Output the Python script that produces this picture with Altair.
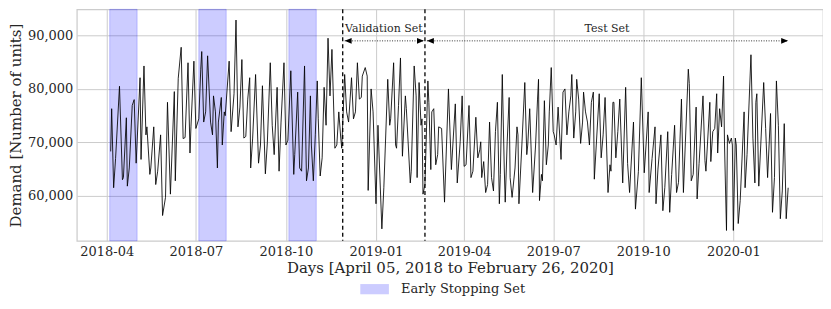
import altair as alt
import pandas as pd

# ---- data ----
# day offsets from 2018-04-05 and demand values (turning points of the daily series)
day_offset = [
    0, 1, 3, 5, 9, 12, 13, 16, 17, 19, 22, 24, 26, 30, 31, 34, 36, 37, 40, 41, 44, 46, 48, 51, 53, 56, 58, 61, 65, 66,
    69, 72, 74, 76, 79, 81,
    82, 85, 87, 90, 92, 93, 95, 97, 99, 102, 104, 105, 107, 109, 110, 113, 114, 116, 117, 121, 123, 126, 128, 130,
    132, 134, 136, 138, 140, 142, 143, 145, 148, 151, 153, 155, 158, 160, 163, 165, 167, 170,
    172, 174, 177, 179, 181, 184, 187, 188, 191, 193, 195, 198, 200, 202, 204, 205, 207, 209, 211, 212, 214, 216,
    218, 220, 222, 224, 226, 229, 231, 233, 235, 236, 238, 239, 241, 243, 246, 248, 250, 252, 254, 256, 257,
    260, 262, 263, 266, 268, 271, 273, 277, 279, 283, 285, 286, 289, 291, 292, 294, 296, 298, 301, 302, 306, 307,
    310, 312, 313, 315, 317, 318, 319, 321, 324, 325, 327, 328, 330, 332, 334, 335, 338, 341, 345,
    348, 352, 354, 357, 359, 361, 363, 366, 368, 370, 373, 375, 377, 378, 379, 381, 383, 385, 387, 389, 391, 393,
    395, 397, 398, 400, 402, 403, 405, 407, 408, 410, 413, 415, 416, 417, 420, 423, 425, 426, 428, 431,
    434, 436, 437, 438, 440, 441, 443, 445, 447, 448, 450, 452, 453, 455, 457, 460, 462, 464, 466, 468, 470, 471,
    473, 475, 476, 478, 480, 482, 483, 485, 487, 489, 491, 493, 494, 496, 499, 501, 503, 505, 508, 510, 511, 513,
    514, 516, 518,
    520, 523, 526, 528, 530, 534, 536, 539, 542, 545, 547, 549, 550, 553, 556, 557, 559, 562, 564, 566, 569, 571,
    573, 576, 578, 580, 583, 585, 587, 590, 591, 593, 595, 598, 599, 601, 605, 607,
    608, 612, 613, 615, 617, 619, 620, 622, 624, 626, 627, 629, 630, 632, 634, 635, 636, 638, 639, 641, 643, 647,
    648, 650, 654, 656, 658, 659, 660, 662, 664, 667, 669, 671, 674, 676, 678, 680, 682, 684, 686, 688, 690, 692,
]
demand = [
    68300, 76300, 61500, 67000, 80500, 63000, 63400, 74600, 61800, 65200, 76900, 78000, 66100, 82100, 66800, 84300,
    71400, 72900, 64000, 65200, 72900, 62100, 64600, 71400, 56300, 59700, 77500, 60300, 79500, 62800,
    82000, 87800, 70700, 70900, 84900, 68000,
    72900, 85200, 72600, 74400, 83700, 87000, 73800, 75700, 86200, 73800, 71400, 78700, 75700, 65200, 73800, 78400,
    69500, 75700, 75000, 85200, 72000, 79100, 92900, 72900,
    76600, 85500, 70800, 71100, 78100, 82100, 65200, 70800, 82700, 66100, 69500, 80600, 64100, 69900, 84900, 73200,
    67700, 80300,
    64600, 73800, 84900, 69500, 70400, 83400, 64000, 67700, 79400, 65200, 64600, 84300, 62800, 65200, 78700, 69500,
    62800, 71400, 81500, 74400, 63700, 67100,
    80300, 73200, 89500, 78700, 87400, 68900, 69500, 75700, 70800, 68900, 78100, 82700, 75700, 73800, 82100, 74400,
    75700, 84900, 78100, 78400, 82400,
    84000, 82400, 61000, 80000, 75700, 58500, 73200, 53800, 61500, 81800, 73200, 74400, 84900, 69500, 68900, 76900,
    85800, 67400, 78700, 76300, 62400, 64600,
    84300, 78700, 63400, 81200, 73200, 74400, 60300, 62100, 81500, 77500, 64900, 75700, 76300, 65800, 67700, 72900,
    72600, 58800, 80000,
    64900, 77200, 62400, 70100, 78700, 65500, 65800, 76900, 63400, 64600, 74700, 67100, 68600, 70100, 63400, 66400,
    60600, 62100, 73800, 63400, 60900, 72000,
    77500, 58500, 64000, 82700, 65200, 58800, 70100, 78400, 63400, 59700, 65200, 72900, 71400, 58500, 69500, 81200,
    67700, 69500, 76300, 60600,
    69500, 78100, 81800, 59100, 64000, 62800, 77800, 65800, 69500, 75700, 84000, 72000, 71400, 69500, 76600, 66800,
    79400, 80000, 71400, 75700, 78700, 82700,
    70800, 75700, 81800, 78100, 69800, 73800, 79400, 75700, 73800, 69500, 77500, 79400, 63100, 69500, 79100, 67100,
    71400, 78400, 60600, 65800, 64600, 77500,
    77500, 67100, 72000,
    78100, 62400, 80300, 66000, 60600, 73800, 57500, 64500, 82100, 64300, 70000, 75700, 60600, 67000, 72900, 58500,
    65000, 71400, 57200, 61500, 72000, 56900,
    64000, 73200, 60600, 62500, 78100, 60600, 70000, 83700, 81000, 62800, 64000, 76600, 59400, 66000, 78700, 66600,
    64600, 77500, 66400, 72000, 72600, 79100, 68000, 76300, 72900, 82400, 69500, 53500, 71400, 69800, 70800, 69500,
    53500, 70800, 69500, 54800, 59100, 75700,
    61500, 67700, 86400, 70800, 62400, 77500, 79100, 61800, 69500, 81200, 72600, 63400, 75400, 56900, 63400, 81500,
    73200, 55700, 60900, 73500, 55700, 61500,
]

# early stopping windows
band_start = ["2018-04-04", "2018-07-04", "2018-10-04"]
band_end = ["2018-05-02", "2018-08-01", "2018-11-01"]
band_label = ["Early Stopping Set"] * 3

# split boundaries (validation start, test start)
split_dates = ["2018-11-28", "2019-02-20"]

# arrow annotations
arrow_names = ["Validation Set", "Test Set"]
arrow_start = ["2018-11-30", "2019-02-22"]
arrow_end = ["2019-02-19", "2020-02-26"]
arrow_text_date = ["2019-01-09", "2019-08-25"]
arrow_level = [89000, 89000]
text_level = [91250, 91250]

x_ticks = [(2018, 4), (2018, 7), (2018, 10), (2019, 1), (2019, 4), (2019, 7), (2019, 10), (2020, 1)]
y_ticks = [60000, 70000, 80000, 90000]

# ---- tables ----
dates = pd.Timestamp("2018-04-05") + pd.to_timedelta(day_offset, unit="D")
line_df = pd.DataFrame({"date": dates.strftime("%Y-%m-%dT00:00:00"), "demand": demand})
band_df = pd.DataFrame({
    "start": [d + "T00:00:00" for d in band_start],
    "end": [d + "T00:00:00" for d in band_end],
    "set": band_label,
})
split_df = pd.DataFrame({"date": [d + "T00:00:00" for d in split_dates]})
arrow_df = pd.DataFrame({
    "name": arrow_names,
    "start": [d + "T00:00:00" for d in arrow_start],
    "end": [d + "T00:00:00" for d in arrow_end],
    "mid": [d + "T00:00:00" for d in arrow_text_date],
    "level": arrow_level,
    "tlevel": text_level,
})

FONT = "DejaVu Serif"
TXT = "#262626"

x_scale = alt.Scale(domain=[alt.DateTime(year=2018, month=3, date=1, hours=10),
                            alt.DateTime(year=2020, month=4, date=1, hours=14)])
y_scale = alt.Scale(domain=[51570, 94900])

x_axis = alt.Axis(
    title="Days [April 05, 2018 to February 26, 2020]",
    values=[alt.DateTime(year=y, month=m, date=1) for y, m in x_ticks],
    format="%Y-%m", labelFont=FONT, titleFont=FONT, labelColor=TXT, titleColor=TXT,
    titleFontWeight="normal", labelFontSize=13, titleFontSize=15, labelPadding=5, titlePadding=2,
    grid=True, gridColor="#cccccc", gridWidth=1, domain=False, ticks=False,
)
y_axis = alt.Axis(
    title="Demand [Number of units]", values=y_ticks, format=",d",
    labelFont=FONT, titleFont=FONT, labelColor=TXT, titleColor=TXT,
    titleFontWeight="normal", labelFontSize=13, titleFontSize=15, labelPadding=4, titlePadding=4,
    grid=True, gridColor="#cccccc", gridWidth=1, domain=False, ticks=False,
)

def X(field, **kw):
    return alt.X(field, type="temporal", scale=x_scale, axis=x_axis, **kw)

def Y(field, **kw):
    return alt.Y(field, type="quantitative", scale=y_scale, axis=y_axis, **kw)

rect_path = "M-1.4,-0.5H1.4V0.5H-1.4Z"

bands = alt.Chart(band_df).mark_rect(
    fillOpacity=0.2, stroke="blue", strokeOpacity=0.2, strokeWidth=1
).encode(
    x=X("start"),
    x2="end",
    color=alt.Color("set:N", scale=alt.Scale(domain=["Early Stopping Set"], range=["blue"]),
                    legend=alt.Legend(title=None, orient="none", legendX=288, legendY=270,
                                      symbolType=rect_path, symbolSize=420, symbolOpacity=0.2,
                                      symbolStrokeWidth=0, labelOffset=16, labelFontSize=13,
                                      labelFont=FONT, labelColor=TXT)),
)

line = alt.Chart(line_df).mark_line(color="black", strokeWidth=0.85).encode(
    x=X("date"), y=Y("demand")
)

splits = alt.Chart(split_df).mark_rule(color="black", strokeDash=[4, 3], strokeWidth=1.3).encode(
    x=X("date")
)

shafts = alt.Chart(arrow_df).mark_rule(color="black", strokeDash=[1, 1.5], strokeWidth=0.8).encode(
    x=X("start"), x2="end", y=Y("level")
)
head_left = alt.Chart(arrow_df).mark_point(
    shape="M0,0L2,-0.8L2,0.8Z", size=49, filled=True, color="black", opacity=1
).encode(x=X("start"), y=Y("level"))
head_right = alt.Chart(arrow_df).mark_point(
    shape="M0,0L-2,-0.8L-2,0.8Z", size=49, filled=True, color="black", opacity=1
).encode(x=X("end"), y=Y("level"))
labels = alt.Chart(arrow_df).mark_text(font=FONT, fontSize=11, color=TXT, baseline="middle").encode(
    x=X("mid"), y=Y("tlevel"), text="name:N"
)

chart = alt.layer(bands, line, splits, shafts, head_left, head_right, labels).properties(
    width=748, height=232, padding={"left": 0, "top": 0, "right": 0, "bottom": 0},
    background="white",
).configure_view(
    stroke="#cccccc", strokeWidth=1.25
).configure_text(
    font=FONT
)

chart.save("out.html", embed_options={"renderer": "svg", "actions": False})
